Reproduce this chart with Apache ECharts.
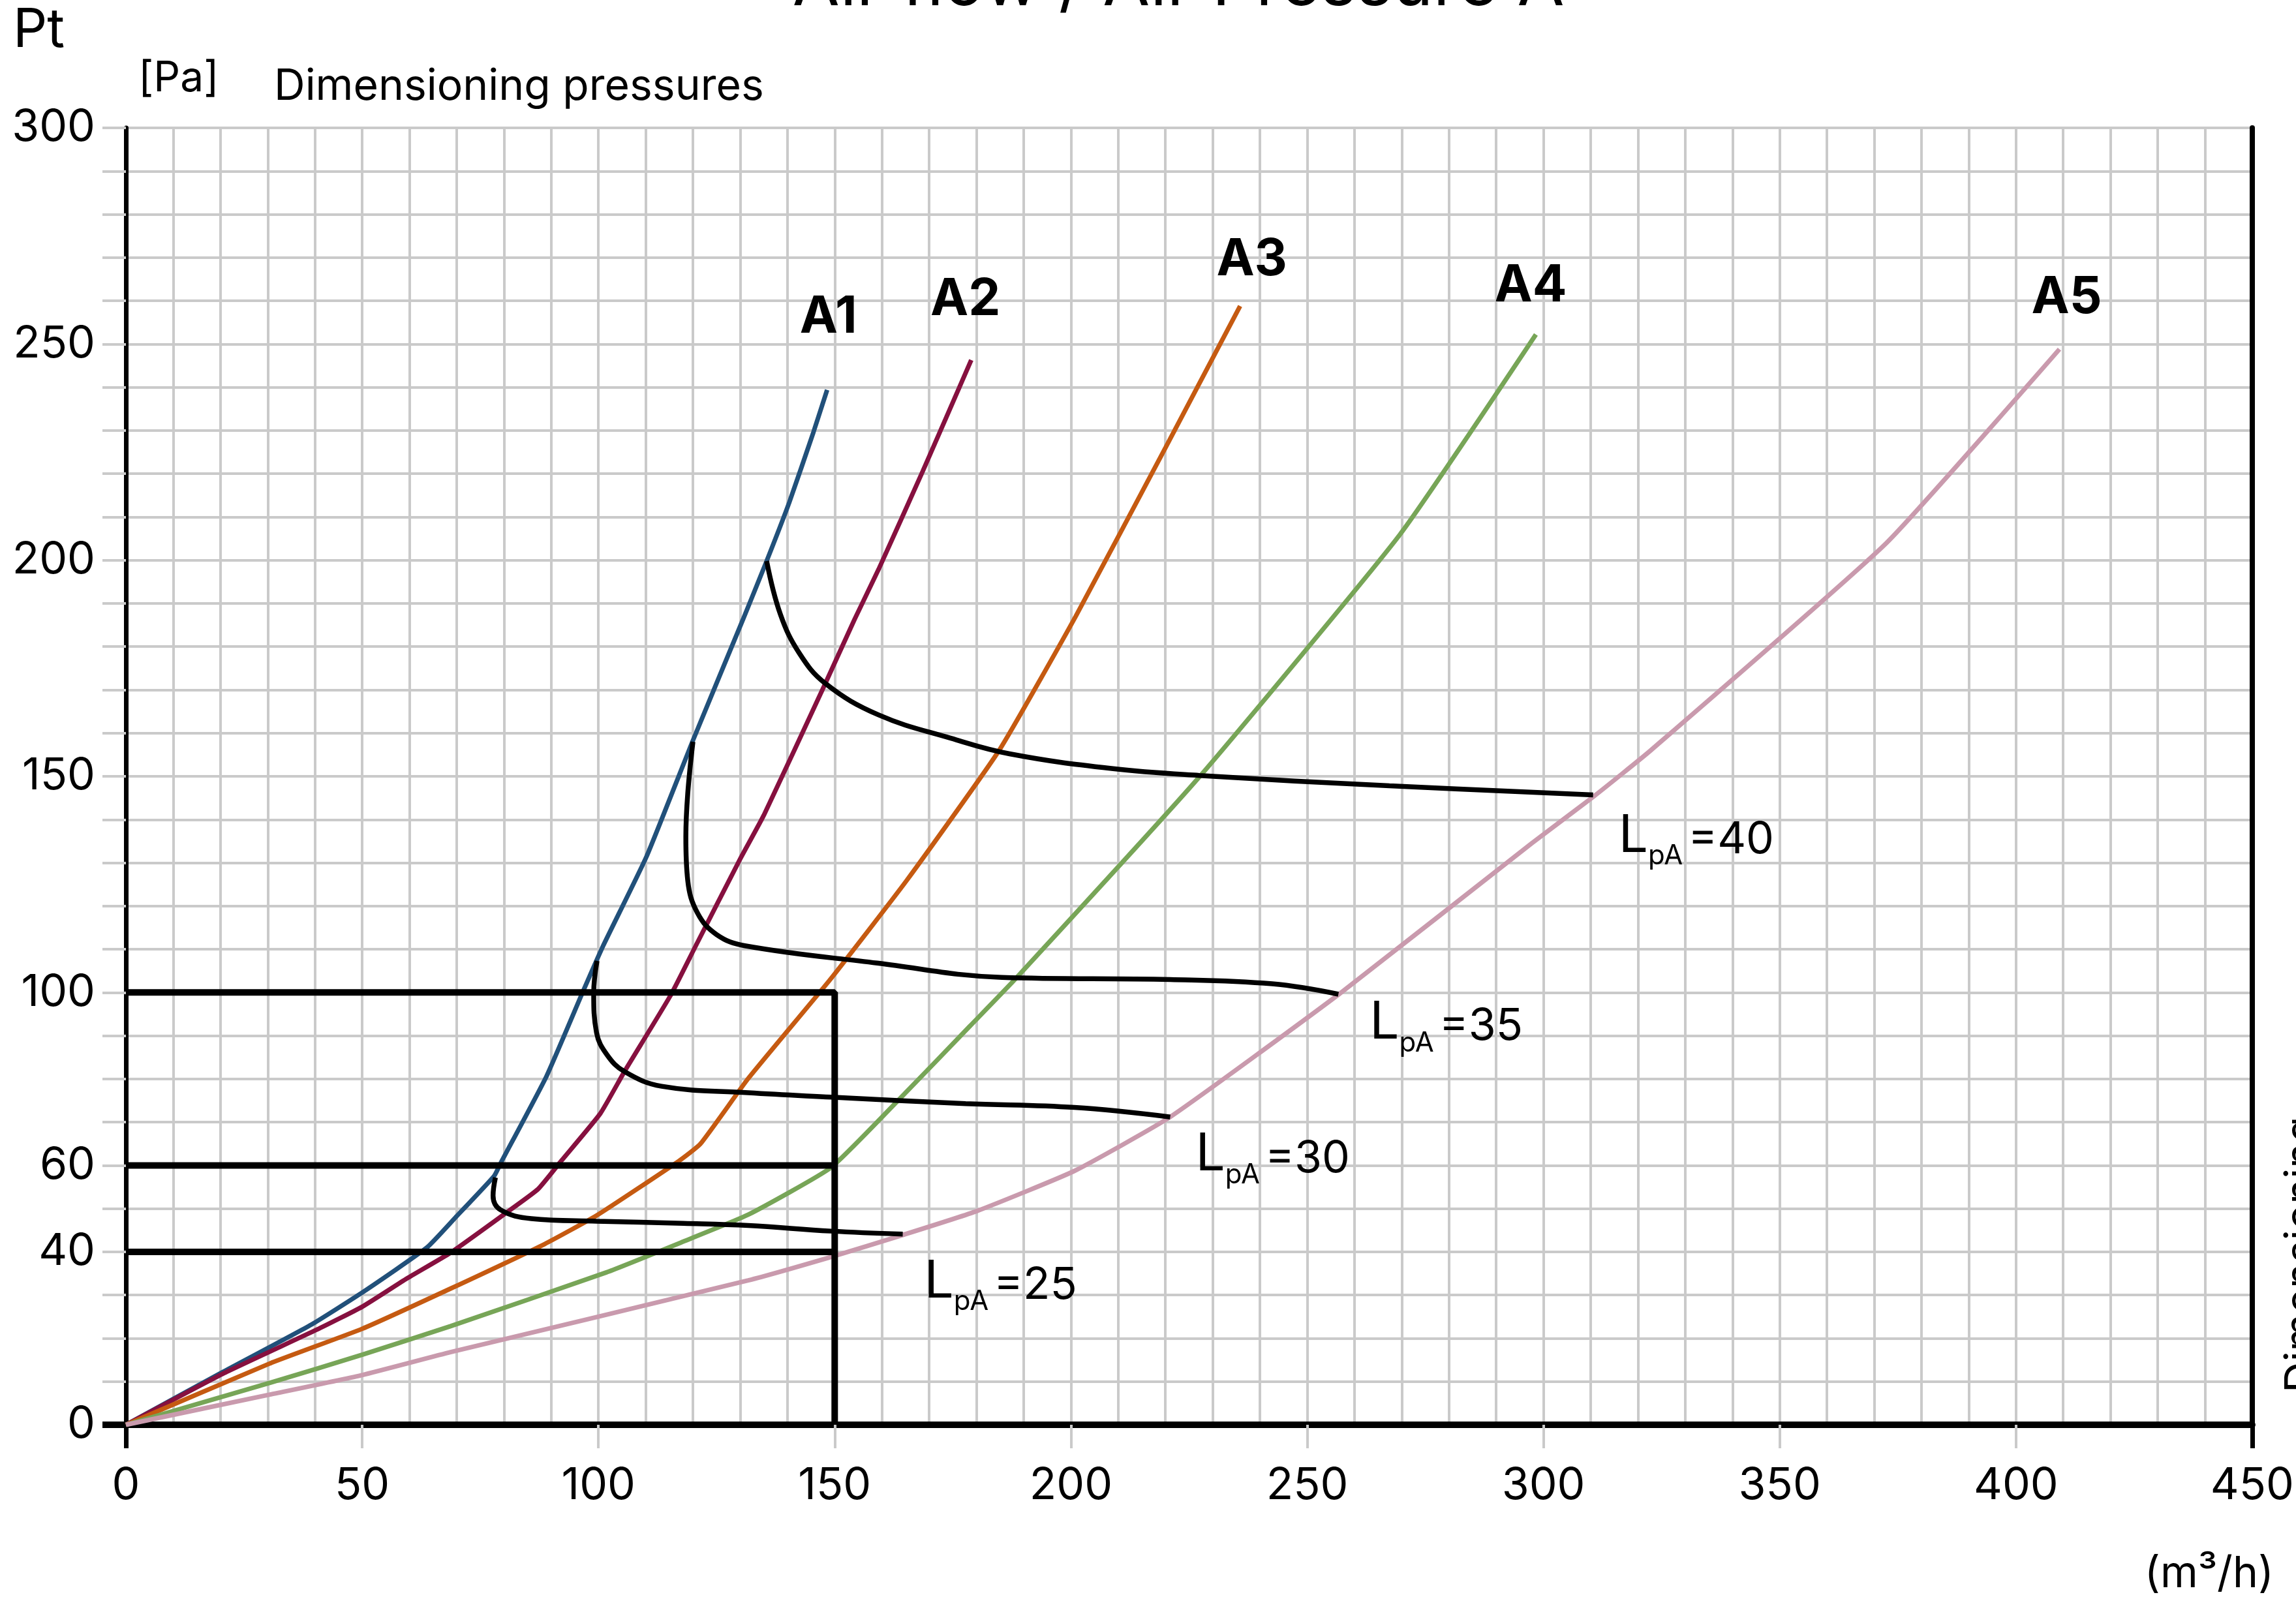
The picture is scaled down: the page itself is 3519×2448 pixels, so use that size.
<!DOCTYPE html>
<html><head><meta charset="utf-8">
<script src="https://cdn.jsdelivr.net/npm/echarts@6/dist/echarts.min.js"></script>
<style>html,body{margin:0;padding:0;background:#fff}#c{width:3519px;height:2448px}</style>
</head><body><div id="c"></div>
<script>
// ---- data ----
const yLabelValues = [0, 40, 60, 100, 150, 200, 250, 300];
const curveNames = ['A1', 'A2', 'A3', 'A4', 'A5'];
const a1 = [[0,0],[20.5,12.2],[39.3,23.2],[50.3,30.8],[63.7,41],[69.7,47.9],[77.9,57.5],[79.3,60.5],[89,80.6],[96.8,100.4],[101,110.8],[110.2,131.5],[120,158.3],[130.6,186.3],[135.6,199.8],[140.4,213.4],[145.5,229.6],[148.4,239.4]];
const a2 = [[0,0],[20.5,11.8],[40.4,22],[50,27.3],[59.4,33.8],[68.7,39.8],[80.3,48.9],[87.2,54.5],[92.1,61],[100.4,72],[105.5,81.7],[115.2,99.2],[120.6,110.8],[130,130.9],[135,141],[147.9,171.2],[154.2,186.3],[159.3,197.9],[168.6,220.5],[178.9,246.3]];
const a3 = [[0,0],[30.5,14.2],[50,22.2],[68.7,31.5],[88.6,41.8],[99.6,48.4],[117,61],[121.6,65],[131.7,80.1],[149.2,103.2],[165.3,126],[184.8,156],[201,187],[220,226],[235.8,258.8]];
const a4 = [[0,0],[30.5,9.7],[50,16.2],[68.7,22.8],[101.8,35.3],[118,42.4],[131.7,48.6],[149.2,59.5],[163.4,75],[178.6,92.2],[188.3,103.2],[227.2,149.9],[269.6,205.9],[298.4,252.2]];
const a5 = [[0,0],[30.5,7],[50,11.5],[68.7,16.8],[131.7,33.4],[149.2,38.8],[164.4,43.9],[180,49.4],[200.7,58.7],[221,71.2],[256.6,99.5],[297.5,134.5],[310.7,145.4],[322.7,156],[372.6,204],[409.2,248.8]];
const lpaLevels = ['40', '35', '30', '25'];
const lpa40 = [[135.6,199.8],[138.5,187.5],[142.5,178.5],[148,171.5],[159.3,164.2],[174.6,158.8],[187,155.2],[208.6,151.8],[227.2,150.2],[267.4,147.8],[310.5,145.7]];
const lpa35 = [[120,158],[118.9,146],[118.5,136],[118.9,125.9],[121,118.3],[125,113.4],[131,110.8],[159,106.8],[185.4,103.5],[221,103],[242.6,102],[256.6,99.6]];
const lpa30 = [[99.7,107.3],[99,99.8],[99.6,90.7],[101.8,85.6],[105.5,81.7],[113.4,78.3],[131.7,76.8],[149.2,75.8],[177.7,74.3],[200.7,73.4],[221,71.2]];
const lpa25 = [[78.2,57.2],[77.7,53],[79.3,49.7],[85.8,47.7],[99.6,47.1],[118,46.6],[131.7,46.1],[149.2,44.8],[164.4,44.1]];
const boxPressures = [100, 60, 40];
const boxFlow = 150;

// ---- styles ----
const FONT = 'Inter';
const GRID = '#cacaca';
const curveColors = ['#21507a', '#86103f', '#c55a11', '#77a557', '#c99aad'];
const curveLabelOffsets = [[2,-111],[-9,-92],[18,-70],[-8,-74],[11,-79]];
const lpaLabelOffsets = [[39,75],[48,56],[39,70],[33,85]];

const curves = [a1, a2, a3, a4, a5];
const lpas = [lpa40, lpa35, lpa30, lpa25];

const series = [];
curves.forEach((d, i) => {
  series.push({
    name: curveNames[i], type: 'line', data: d, showSymbol: false, smooth: 0.15, z: 3,
    lineStyle: { color: curveColors[i], width: 7 }, animation: false, silent: true,
    markPoint: {
      symbol: 'circle', symbolSize: 0, silent: true, animation: false,
      data: [{ coord: d[d.length - 1] }],
      label: { show: true, position: 'inside', formatter: curveNames[i], color: '#000',
        fontFamily: FONT, fontWeight: 'bold', fontSize: 78, align: 'center', verticalAlign: 'middle',
        offset: curveLabelOffsets[i] }
    }
  });
});
lpas.forEach((d, i) => {
  series.push({
    name: 'LpA=' + lpaLevels[i], type: 'line', data: d, showSymbol: false, smooth: 0.4, z: 5,
    lineStyle: { color: '#000', width: 7.5 }, animation: false, silent: true,
    markPoint: {
      symbol: 'circle', symbolSize: 0, silent: true, animation: false,
      data: [{ coord: d[d.length - 1] }],
      label: { show: true, position: 'inside', align: 'left', verticalAlign: 'middle',
        offset: lpaLabelOffsets[i],
        formatter: '{L|L}{s|pA}{v|=' + lpaLevels[i] + '}',
        rich: {
          L: { fontFamily: FONT, fontSize: 80, lineHeight: 80, color: '#000', verticalAlign: 'bottom', padding: [0,0,12,0] },
          s: { fontFamily: FONT, fontSize: 42, lineHeight: 42, color: '#000', verticalAlign: 'bottom' },
          v: { fontFamily: FONT, fontSize: 68, lineHeight: 68, color: '#000', verticalAlign: 'bottom', padding: [0,0,12,8] }
        }
      }
    }
  });
});
// dimensioning box
series.push({
  name: 'box100', type: 'line', data: [[0, boxPressures[0]], [boxFlow, boxPressures[0]], [boxFlow, 0]],
  showSymbol: false, z: 4, lineStyle: { color: '#000', width: 10 }, animation: false, silent: true
});
boxPressures.slice(1).forEach(p => {
  series.push({
    name: 'box' + p, type: 'line', data: [[0, p], [boxFlow, p]],
    showSymbol: false, z: 4, lineStyle: { color: '#000', width: 10 }, animation: false, silent: true
  });
});

const chart = echarts.init(document.getElementById('c'), null, { renderer: 'canvas' });
chart.setOption({
  backgroundColor: '#fff',
  animation: false,
  textStyle: { fontFamily: FONT },
  grid: { left: 193, right: 62, top: 196, bottom: 264, containLabel: false },
  xAxis: [
    { type: 'value', min: 0, max: 450, interval: 50, position: 'bottom',
      axisLine: { show: true, onZero: false, lineStyle: { color: '#000', width: 10 } },
      axisTick: { show: true, length: 36, lineStyle: { color: GRID, width: 4 } },
      axisLabel: { fontSize: 68, color: '#000', margin: 60, fontFamily: FONT },
      splitLine: { show: true, lineStyle: { color: GRID, width: 4 } },
      minorTick: { show: false, splitNumber: 5 },
      minorSplitLine: { show: true, lineStyle: { color: GRID, width: 4 } }, z: 1 },
    { type: 'value', min: 0, max: 450, position: 'bottom',
      axisLine: { show: false }, axisLabel: { show: false }, splitLine: { show: false },
      axisTick: { show: true, customValues: [0, 450], length: 36, lineStyle: { color: '#000', width: 7 } }, z: 2 }
  ],
  yAxis: [
    { type: 'value', min: 0, max: 300, interval: 10, position: 'left',
      axisLine: { show: true, onZero: false, lineStyle: { color: '#000', width: 7 } },
      axisTick: { show: true, length: 36, lineStyle: { color: GRID, width: 4 } },
      axisLabel: { fontSize: 68, color: '#000', margin: 47, fontFamily: FONT,
        formatter: v => (yLabelValues.indexOf(v) >= 0 ? String(v) : '') },
      splitLine: { show: true, lineStyle: { color: GRID, width: 4 } }, z: 1 },
    { type: 'value', min: 0, max: 300, position: 'left',
      axisLine: { show: false }, axisLabel: { show: false }, splitLine: { show: false },
      axisTick: { show: true, customValues: [0], length: 36, lineStyle: { color: '#000', width: 10 } }, z: 2 },
    { type: 'value', min: 0, max: 300, position: 'right',
      axisLine: { show: true, onZero: false, lineStyle: { color: '#000', width: 8 } },
      axisTick: { show: false }, axisLabel: { show: false }, splitLine: { show: false }, z: 2 }
  ],
  graphic: [
    { type: 'text', x: 1806, y: -24, silent: true,
      style: { text: 'Air flow / Air Pressure A', font: '105px Inter', fill: '#000', align: 'center', verticalAlign: 'middle' } },
    { type: 'text', x: 20, y: 47, silent: true,
      style: { text: 'Pt', font: '82px Inter', fill: '#000', align: 'left', verticalAlign: 'middle' } },
    { type: 'text', x: 212, y: 121, silent: true,
      style: { text: '[Pa]', font: '64px Inter', fill: '#000', align: 'left', verticalAlign: 'middle' } },
    { type: 'text', x: 420, y: 133, silent: true,
      style: { text: 'Dimensioning pressures', font: '66px Inter', fill: '#000', align: 'left', verticalAlign: 'middle' } },
    { type: 'text', x: 3485, y: 2413, silent: true,
      style: { text: '(m³/h)', font: '66px Inter', fill: '#000', align: 'right', verticalAlign: 'middle' } },
    { type: 'text', x: 3496, y: 2135, rotation: Math.PI / 2, silent: true,
      style: { text: 'Dimensioning', font: '66px Inter', fill: '#000', align: 'left', verticalAlign: 'top' } }
  ],
  series: series
});
</script>
</body></html>
